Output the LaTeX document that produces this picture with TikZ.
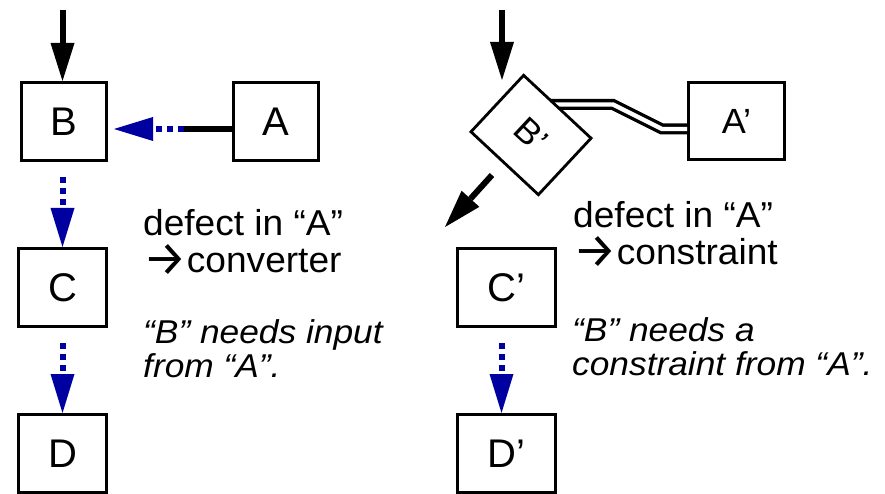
\documentclass[tikz,border=0pt]{standalone}
\usepackage{fontspec}
\setmainfont{Liberation Sans}
\newfontfamily\notewide{Liberation Sans}[FakeStretch=1.03]
\newfontfamily\itwide{Liberation Sans}[FakeStretch=1.07]
\newfontfamily\arrowfont{Fira Sans}
\newcommand{\bigarrow}{\raisebox{-3pt}{\scalebox{1.35}{\arrowfont →}}}
\usetikzlibrary{arrows.meta}
\definecolor{dblue}{RGB}{0,0,160}
\begin{document}
\begin{tikzpicture}[x=1pt,y=-1pt,
  box/.style={draw, line width=2.8pt, inner sep=0pt, fill=white,
    font=\fontsize{40}{40}\selectfont},
  pbox/.style={box, font=\notewide\fontsize{35}{35}\selectfont},
  blk/.style={line width=6pt, -{Triangle[length=38pt,width=24pt,line width=0pt]}},
  bluedot/.style={dblue, line width=6pt, dash pattern=on 6pt off 5pt,
    -{Triangle[length=39pt,width=24pt,line width=0pt]}},
  dbl/.style={line width=3.3pt, double=white, double distance=4.4pt},
  note/.style={anchor=north west, inner sep=0pt, align=left,
    font=\notewide\fontsize{36}{37}\selectfont},
  inote/.style={anchor=north west, inner sep=0pt, align=left,
    font=\itwide\itshape\fontsize{33}{34}\selectfont}
]
\clip (0,0) rectangle (885,494);

% left column
\node[box, minimum width=85.2pt, minimum height=78.2pt] (B) at (64,121.5) {B};
\node[box, minimum width=85.2pt, minimum height=78.2pt] (A) at (276,121.5) {A};
\node[box, minimum width=88.2pt, minimum height=78.2pt] (C) at (62.5,287.5) {C};
\node[box, minimum width=88.2pt, minimum height=78.2pt] (D) at (62.5,453.5) {D};

\coordinate (tl) at (62.5,10);
\draw[blk] (tl) -- (tl |- B.north);

\coordinate (hm) at (184,129);
\draw[line width=6pt] ([yshift=-7.5pt]A.west) -- (hm);
\draw[bluedot, shorten >=6pt] (hm) -- ([yshift=-7.5pt]B.east);

\draw[bluedot, shorten <=15pt] (B.south -| C.north) -- (C.north);
\draw[bluedot, shorten <=15pt] (C.south) -- (D.north);

\node[note] (t1) at (143,209) {defect in “A”\\\bigarrow{}converter};
\node[inote] (t3) at (143,319) {“B” needs input\\from “A”.};

% right column
\node[pbox, minimum width=96.2pt, minimum height=77.2pt] (Ap) at (736.5,121) {A’};
\node[box, minimum width=98.2pt, minimum height=78.2pt] (Cp) at (506.5,287.5) {C’};
\node[box, minimum width=98.2pt, minimum height=78.2pt] (Dp) at (506.5,453.5) {D’};

\coordinate (dstart) at (545,104.5);
\coordinate (bend1) at (613,104.5);
\coordinate (bend2) at (662,129);
\draw[dbl] (dstart) -- (bend1) -- (bend2) -- ([yshift=-8pt]Ap.west);

\node[pbox, minimum width=92.2pt, minimum height=77.2pt, rotate=-43] (Bp) at (531,135) {B’};

\coordinate (tr) at (502,10);
\coordinate (trend) at (502,80);
\draw[blk] (tr) -- (trend);

\coordinate (ds) at (492,175);
\coordinate (de) at (445,227);
\draw[blk] (ds) -- (de);

\draw[bluedot, shorten <=15pt] ([xshift=-5pt]Cp.south) -- ([xshift=-5pt]Dp.north);

\node[note] (t2) at (573,201.5) {defect in “A”\\\bigarrow{}constraint};
\node[inote] (t4) at (572,317) {“B” needs a\\constraint from “A”.};
\end{tikzpicture}
\end{document}
